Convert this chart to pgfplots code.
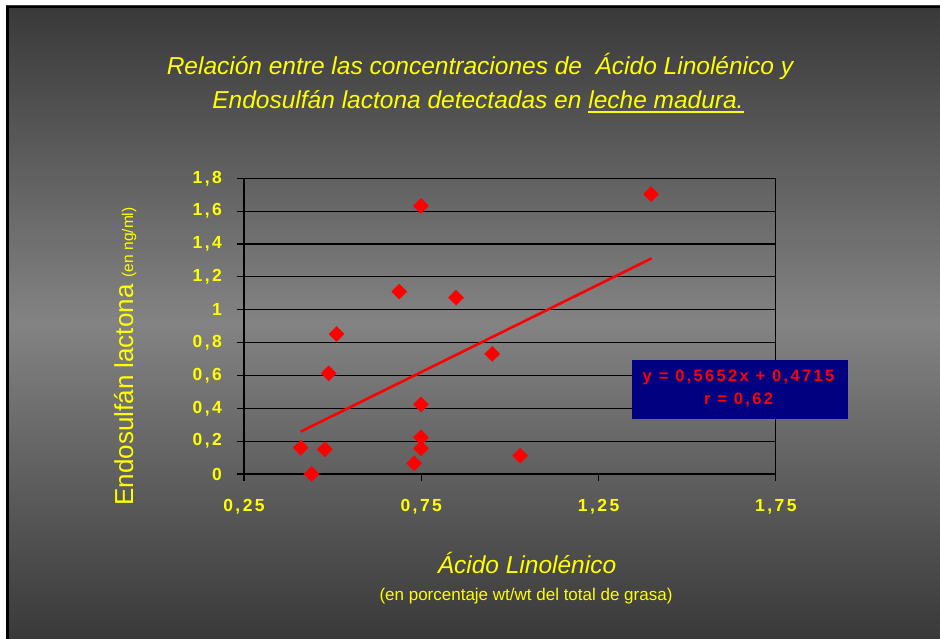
\documentclass[border=0pt]{standalone}
\usepackage{fontspec}
\setmainfont{Liberation Sans}
\newfontfamily\spaced[LetterSpace=14]{Liberation Sans}
\usepackage{pgfplots}
\pgfplotsset{compat=1.18}

\definecolor{bgdark}{HTML}{393939}
\definecolor{bglight}{HTML}{838383}
\definecolor{ylw}{HTML}{FFFF00}
\definecolor{eqbox}{HTML}{000080}

\begin{document}
\begin{tikzpicture}[x=1pt,y=1pt]
\useasboundingbox (0,0) rectangle (940,639);
\fill[white] (0,0) rectangle (940,639);
\shade[top color=bgdark, bottom color=bgdark, middle color=bglight] (6,0) rectangle (940,633);
\draw[black, line width=2.5pt] (7.25,0) -- (7.25,631.75) -- (940,631.75);

% title
\node[anchor=base, text=ylw, font=\fontsize{24.5}{28}\selectfont\itshape] at (480,564.7)
  {Relación entre las concentraciones de \ Ácido Linolénico y};
\node[anchor=base, text=ylw, font=\fontsize{24.5}{28}\selectfont\itshape] at (478,530.7)
  {Endosulfán lactona detectadas en {\setbox0\hbox{leche madura.}\rlap{\rule[-5pt]{\wd0}{2pt}}\box0}};

\begin{axis}[
    at={(244pt,165pt)}, anchor=south west,
    scale only axis,
    width=531.8pt, height=295.7pt,
    xmin=0.25, xmax=1.75, ymin=0, ymax=1.8,
    axis line style={black, line width=1.3pt},
    xtick={0.25,0.75,1.25,1.75},
    xticklabels={{0,25},{0,75},{1,25},{1,75}},
    ytick={0,0.2,0.4,0.6,0.8,1,1.2,1.4,1.6,1.8},
    yticklabels={0,{0,2},{0,4},{0,6},{0,8},1,{1,2},{1,4},{1,6},{1,8}},
    xtick pos=bottom, ytick pos=left,
    tick align=outside,
    major tick length=7pt,
    tick style={black, line width=1.2pt},
    ymajorgrids,
    grid style={black, line width=1.1pt},
    xticklabel style={text=ylw, font=\spaced\bfseries\fontsize{17.5}{19}\selectfont, anchor=base, yshift=-31pt},
    yticklabel style={text=ylw, font=\spaced\bfseries\fontsize{17.5}{19}\selectfont, anchor=east, inner sep=0pt, xshift=-15pt},
]
\addplot[only marks, mark=square*, mark size=5.3pt, mark options={rotate=45, fill=red, draw=red}]
  coordinates {
    (0.410,0.160) (0.441,0.000) (0.478,0.150) (0.489,0.613) (0.511,0.852)
    (0.688,1.110) (0.749,1.632) (0.749,0.424) (0.749,0.223) (0.749,0.156)
    (0.730,0.065) (0.848,1.073) (1.398,1.703) (0.950,0.731) (1.029,0.111)
  };
\addplot[red, line width=2.6pt] coordinates {(0.41,0.258) (1.40,1.313)};
\end{axis}

% equation box
\fill[eqbox] (632,220.3) rectangle (848,279);
\node[anchor=base, text=red, font=\spaced\bfseries\fontsize{16.5}{18}\selectfont] at (738.5,257.3) {y = 0,5652x + 0,4715};
\node[anchor=base, text=red, font=\spaced\bfseries\fontsize{16.5}{18}\selectfont] at (738.5,234) {r = 0,62};

% y label
\node[anchor=base, rotate=90, text=ylw, font=\fontsize{26}{30}\selectfont] at (133,282.5)
  {Endosulfán lactona {\fontsize{15.5}{18}\selectfont (en ng/ml)}};

% x label
\node[anchor=base, text=ylw, font=\fontsize{24.5}{28}\selectfont\itshape] at (527,65) {Ácido Linolénico};
\node[anchor=base, text=ylw, font=\fontsize{17}{20}\selectfont] at (526,38) {(en porcentaje wt/wt del total de grasa)};
\end{tikzpicture}
\end{document}
